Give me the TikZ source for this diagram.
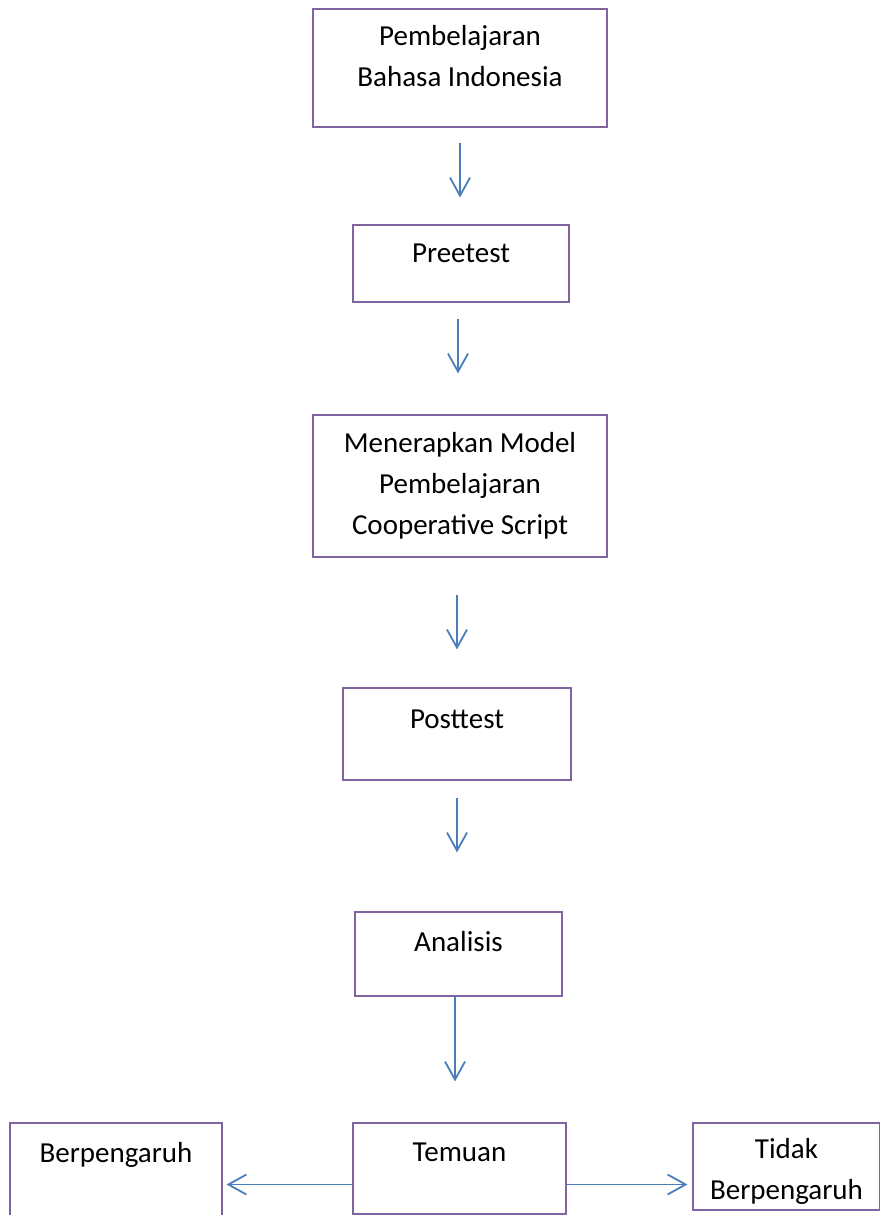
\documentclass[tikz,border=0pt]{standalone}
\usepackage{fontspec}
\setmainfont{Carlito}
\usepackage{xcolor}
\usetikzlibrary{arrows.meta}
\definecolor{boxpurple}{RGB}{128,100,162}
\definecolor{arrowblue}{RGB}{74,126,187}

\begin{document}
\begin{tikzpicture}[
        x=1pt, y=-1pt,
        box/.style={rectangle, draw=boxpurple, line width=1.1pt, inner sep=0pt},
        txt/.style={anchor=center, align=center, font=\fontsize{29}{41}\selectfont, inner sep=0pt},
        arrow/.style={-{Straight Barb[length=18pt, width=20pt]}, line width=1.8pt, color=arrowblue}
    ]
    \useasboundingbox (0,0) rectangle (880,1215);

    % Alur penelitian (kotak dari atas ke bawah)
    \node (pb)    [box, minimum width=294pt, minimum height=118pt, label={[txt, yshift=-48pt]north:Pembelajaran\\Bahasa Indonesia}] at (460, 68) {};
    \node (pre)   [box, minimum width=216pt, minimum height=77pt, label={[txt, yshift=-29pt]north:Preetest}] at (461, 263.5) {};
    \node (model) [box, minimum width=294pt, minimum height=142pt, label={[txt, yshift=-71pt]north:Menerapkan Model\\Pembelajaran\\Cooperative Script}] at (460, 486) {};
    \node (post)  [box, minimum width=228pt, minimum height=92pt, label={[txt, yshift=-32pt]north:Posttest}] at (457, 734) {};
    \node (an)    [box, minimum width=207pt, minimum height=84pt, label={[txt, yshift=-30pt]north:Analisis}] at (458.5, 954) {};

    % Baris hasil
    \node (tem)   [box, minimum width=213pt, minimum height=91pt, label={[txt, yshift=-30pt]north:Temuan}] at (459.5, 1168.5) {};
    \node (ber)   [box, minimum width=212pt, minimum height=100pt, label={[txt, yshift=-32pt]north:Berpengaruh}] at (116, 1173) {};
    \node (tdk)   [box, minimum width=187pt, minimum height=87pt, label={[txt, yshift=-49pt]north:Tidak\\Berpengaruh}] at (786.5, 1166.5) {};

    % Panah (tegak lurus)
    \draw [arrow, shorten <=15pt, shorten >=27pt] (pb.south) -- (pb.south |- pre.north);
    \draw [arrow, shorten <=16pt, shorten >=41pt] ([xshift=-3pt]pre.south) -- ([xshift=-3pt]pre.south |- model.north);
    \draw [arrow, shorten <=37pt, shorten >=38pt] ([xshift=-3pt]model.south) -- ([xshift=-3pt]model.south |- post.north);
    \draw [arrow, shorten <=17pt, shorten >=59pt] (post.south) -- (post.south |- an.north);
    \draw [arrow, shorten <=-2pt, shorten >=41pt] ([xshift=-3.5pt]an.south) -- ([xshift=-3.5pt]an.south |- tem.north);
    \draw [arrow, shorten >=4pt] ([yshift=-16pt]tem.west) -- ([yshift=-16pt]tem.west -| ber.east);
    \draw [arrow, shorten >=5pt] ([yshift=-16pt]tem.east) -- ([yshift=-16pt]tem.east -| tdk.west);

\end{tikzpicture}
\end{document}
